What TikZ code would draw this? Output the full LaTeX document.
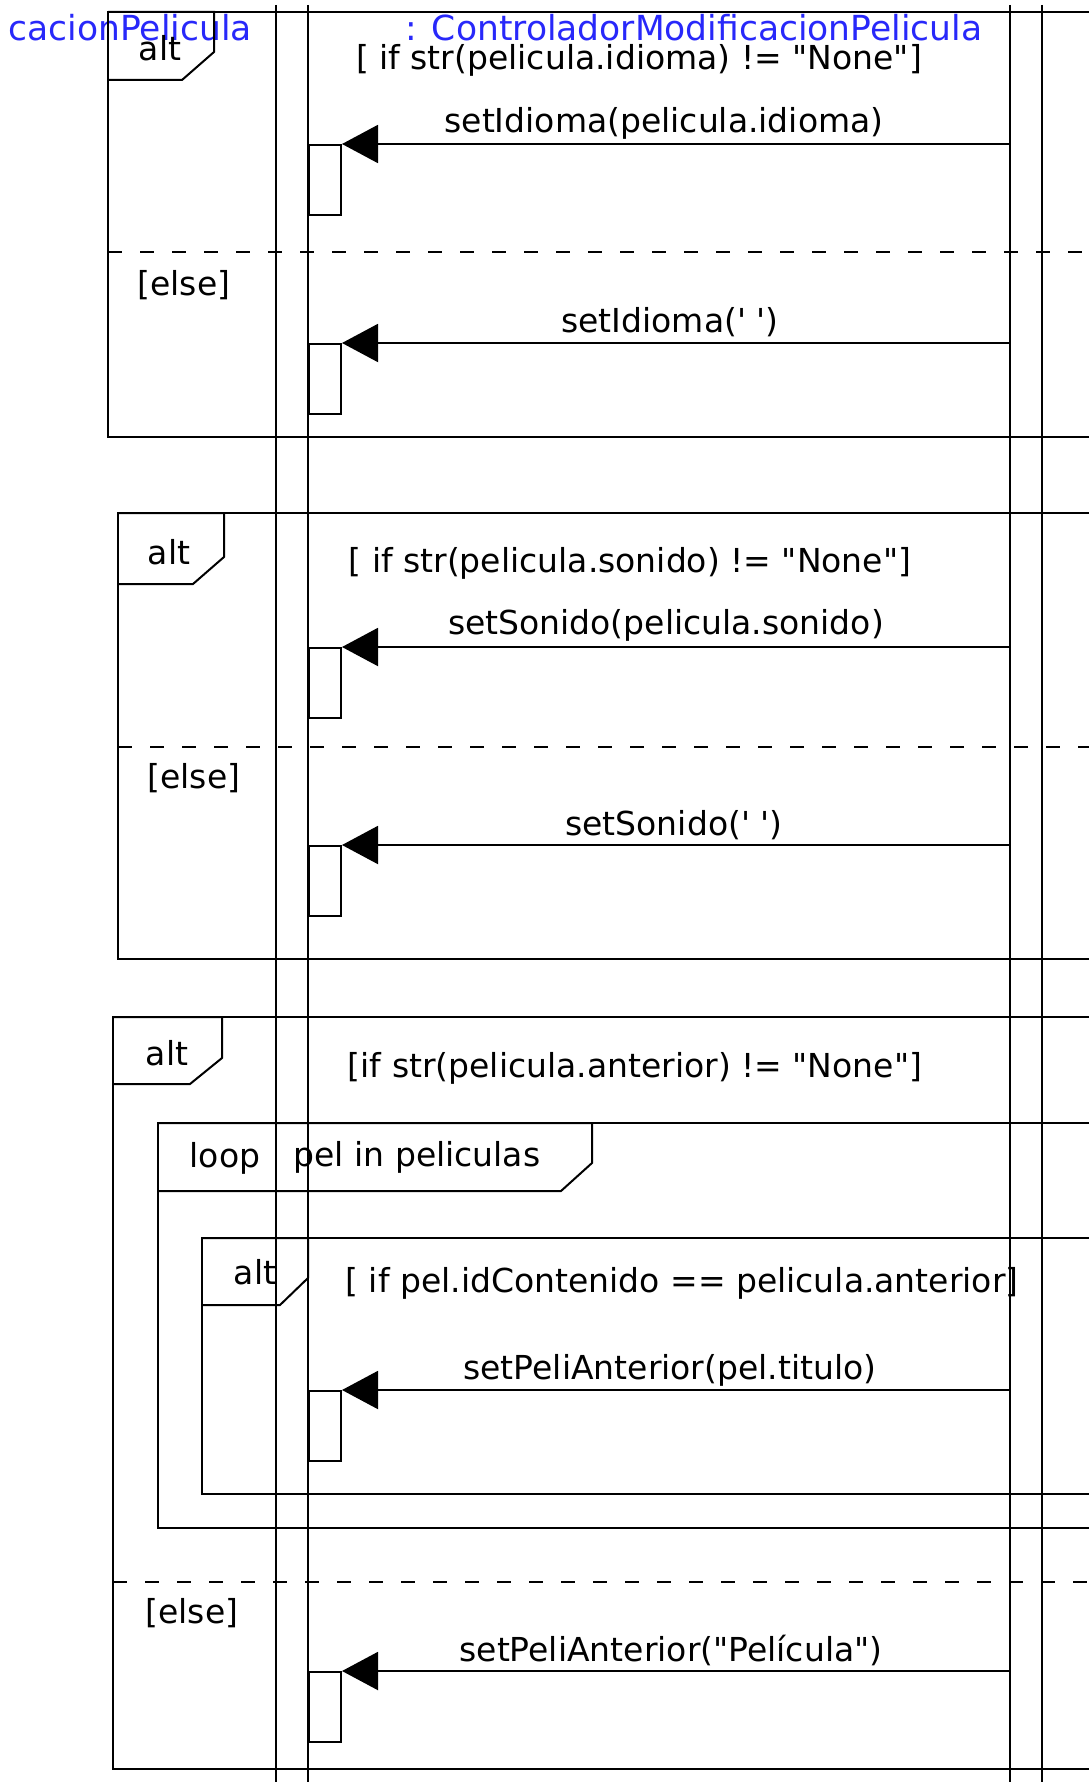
\documentclass[tikz,border=0pt]{standalone}
\usepackage{fontspec}
\usetikzlibrary{arrows.meta,positioning}
\newfontfamily\umlfont{DejaVu Sans}
\definecolor{lifeblue}{RGB}{40,40,250}
\tikzset{%
    lifeline/.style={line width=2pt},
    fragment/.style={line width=2pt, line join=miter},
    operand/.style={line width=2pt, dash pattern=on 14pt off 18pt},
    actbox/.style={draw, fill=white, line width=2pt, anchor=north west,
        inner sep=0pt, minimum width=32pt, minimum height=70pt},
    call/.style={line width=2pt, -{Triangle[length=36pt,width=38pt]}},
    lbl/.style={inner sep=0pt, font=\umlfont\fontsize{33}{40}\selectfont},
    head/.style={lbl, text=lifeblue, font=\umlfont\fontsize{34.5}{40}\selectfont}
}
\begin{document}
\begin{tikzpicture}[x=1pt,y=-1pt]
\useasboundingbox (0,0) rectangle (1089,1782);
\clip (0,0) rectangle (1089,1782);
%\draw [help lines] (0,0) grid (1089,1782);

% lifeline heads
\node[head, anchor=east] (H0) at (252,28) {cacionPelicula};
\node[head] (H1) at (694,28) {: ControladorModificacionPelicula};

% first alt
\draw[fragment] (108,12) rectangle (1100,437);
\draw[fragment] (108,12) -- (214,12) -- (214,52) -- (182,80) -- (108,80);
\draw[operand] (108,252) -- (1100,252);
\node[lbl] (T1) at (160,48) {alt};
\node[lbl] (G1) at (639,60) {[ if str(pelicula.idioma) != "None"]};
\node[lbl] (E1) at (184,285) {[else]};

% second alt
\draw[fragment] (118,513) rectangle (1100,959);
\draw[fragment] (118,513) -- (224,513) -- (224,557) -- (193,584) -- (118,584);
\draw[operand] (118,747) -- (1100,747);
\node[lbl] (T2) at (169,552) {alt};
\node[lbl] (G2) at (630,563) {[ if str(pelicula.sonido) != "None"]};
\node[lbl] (E2) at (194,778) {[else]};

% third alt
\draw[fragment] (113,1017) rectangle (1100,1769);
\draw[fragment] (113,1017) -- (222,1017) -- (222,1058) -- (190,1084) -- (113,1084);
\draw[operand] (113,1582) -- (1100,1582);
\node[lbl] (T3) at (167,1053) {alt};
\node[lbl] (G3) at (635,1068) {[if str(pelicula.anterior) != "None"]};
\node[lbl] (E3) at (192,1613) {[else]};

% loop
\draw[fragment] (158,1123) rectangle (1100,1528);
\draw[fragment] (158,1123) -- (592,1123) -- (592,1163) -- (561,1191) -- (158,1191);
\node[lbl] (T4) at (225,1158) {loop};
\node[lbl] (G4) at (417,1157) {pel in peliculas};

% inner alt
\draw[fragment] (202,1238) rectangle (1100,1494);
\draw[fragment] (202,1238) -- (308,1238) -- (308,1278) -- (280,1305) -- (202,1305);
\node[lbl] (T5) at (255,1272) {alt};
\node[lbl] (G5) at (682,1283) {[ if pel.idContenido == pelicula.anterior]};

% activations
\node[actbox] (A1) at (308,144) {};
\node[actbox] (A2) at (308,343) {};
\node[actbox] (A3) at (308,647) {};
\node[actbox] (A4) at (308,845) {};
\node[actbox] (A5) at (308,1390) {};
\node[actbox] (A6) at (308,1671) {};

% lifelines
\foreach \x [count=\i] in {276,308,1010,1042}{
    \coordinate (L\i t) at (\x,5);
    \coordinate (L\i b) at (\x,1782);
    \draw[lifeline] (L\i t) -- (L\i b);
}

% controller to view
\coordinate (S1) at (1010,144);
\coordinate (S2) at (1010,343);
\coordinate (S3) at (1010,647);
\coordinate (S4) at (1010,845);
\coordinate (S5) at (1010,1390);
\coordinate (S6) at (1010,1671);
\draw[call] (S1) -- (A1.north east);
\draw[call] (S2) -- (A2.north east);
\draw[call] (S3) -- (A3.north east);
\draw[call] (S4) -- (A4.north east);
\draw[call] (S5) -- (A5.north east);
\draw[call] (S6) -- (A6.north east);

\node[lbl] (M1) at (664,123) {setIdioma(pelicula.idioma)};
\node[lbl] (M2) at (670,322) {setIdioma(' ')};
\node[lbl] (M3) at (666,625) {setSonido(pelicula.sonido)};
\node[lbl] (M4) at (674,825) {setSonido(' ')};
\node[lbl] (M5) at (670,1370) {setPeliAnterior(pel.titulo)};
\node[lbl] (M6) at (671,1650) {setPeliAnterior("Película")};
\end{tikzpicture}
\end{document}
